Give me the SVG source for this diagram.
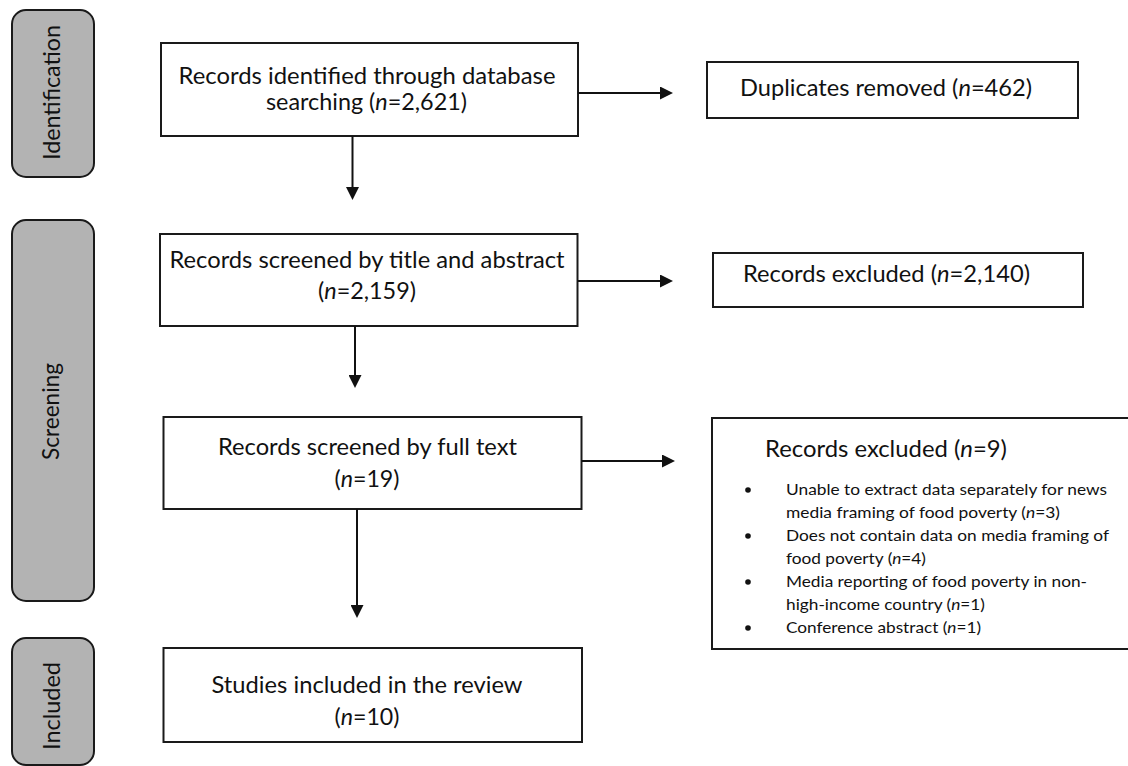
<svg xmlns="http://www.w3.org/2000/svg" width="1128" height="766" viewBox="0 0 1128 766">
<defs>
<style>
.box{fill:#fff;stroke:#1a1a1a;stroke-width:2}
.pill{fill:#b3b3b3;stroke:#1a1a1a;stroke-width:2}
.t{font-family:Lato,"Open Sans","Liberation Sans",sans-serif;font-size:23.5px;fill:#111}
.c{text-anchor:middle}
.s{font-size:16px}
.lb{font-size:24px}
.i{font-style:italic}
.conn line{stroke:#111;stroke-width:2}
</style>
<marker id="ah" viewBox="0 0 13 13" markerWidth="13" markerHeight="13" refX="1" refY="6.5" orient="auto" markerUnits="userSpaceOnUse">
<path d="M0,0 L13,6.5 L0,13 z" fill="#111"/>
</marker>
</defs>
<rect width="1128" height="766" fill="#fff"/>

<g id="stage-identification">
<rect class="pill" x="12" y="10" width="82" height="167" rx="14"/>
<text class="t c lb" transform="translate(60,92.5) rotate(-90)" textLength="135" lengthAdjust="spacingAndGlyphs">Identification</text>
</g>
<g id="stage-screening">
<rect class="pill" x="12" y="220" width="82" height="381" rx="14"/>
<text class="t c lb" transform="translate(59,411.5) rotate(-90)" textLength="97" lengthAdjust="spacingAndGlyphs">Screening</text>
</g>
<g id="stage-included">
<rect class="pill" x="12" y="638" width="82" height="127" rx="14"/>
<text class="t c lb" transform="translate(60,706) rotate(-90)" textLength="88" lengthAdjust="spacingAndGlyphs">Included</text>
</g>

<g id="box-identified">
<rect class="box" x="161" y="43" width="417" height="93"/>
<text class="t c" x="367" y="84" textLength="377" lengthAdjust="spacingAndGlyphs">Records identified through database</text>
<text class="t c" x="366.5" y="110" textLength="201" lengthAdjust="spacingAndGlyphs">searching (<tspan class="i">n</tspan>=2,621)</text>
</g>

<g id="box-duplicates">
<rect class="box" x="707" y="62" width="371" height="56"/>
<text class="t c" x="886" y="96" textLength="292" lengthAdjust="spacingAndGlyphs">Duplicates removed (<tspan class="i">n</tspan>=462)</text>
</g>

<g id="box-title-abstract">
<rect class="box" x="160" y="234" width="417.5" height="92"/>
<text class="t c" x="367" y="268" textLength="395" lengthAdjust="spacingAndGlyphs">Records screened by title and abstract</text>
<text class="t c" x="367" y="299" textLength="98" lengthAdjust="spacingAndGlyphs">(<tspan class="i">n</tspan>=2,159)</text>
</g>

<g id="box-excluded-1">
<rect class="box" x="713" y="253" width="370" height="54"/>
<text class="t c" x="886.5" y="282" textLength="287" lengthAdjust="spacingAndGlyphs">Records excluded (<tspan class="i">n</tspan>=2,140)</text>
</g>

<g id="box-full-text">
<rect class="box" x="163.5" y="417" width="418" height="92"/>
<text class="t c" x="367.5" y="455" textLength="299" lengthAdjust="spacingAndGlyphs">Records screened by full text</text>
<text class="t c" x="367" y="487" textLength="65" lengthAdjust="spacingAndGlyphs">(<tspan class="i">n</tspan>=19)</text>
</g>

<g id="box-excluded-2">
<rect class="box" x="712" y="418" width="430" height="231"/>
<text class="t" x="765" y="457" textLength="242" lengthAdjust="spacingAndGlyphs">Records excluded (<tspan class="i">n</tspan>=9)</text>
<g fill="#111">
<circle cx="748" cy="490" r="2.8"/>
<circle cx="748" cy="536" r="2.8"/>
<circle cx="748" cy="582" r="2.8"/>
<circle cx="748" cy="628" r="2.8"/>
</g>
<text class="t s" x="786" y="495" textLength="321" lengthAdjust="spacingAndGlyphs">Unable to extract data separately for news</text>
<text class="t s" x="786" y="518" textLength="274" lengthAdjust="spacingAndGlyphs">media framing of food poverty (<tspan class="i">n</tspan>=3)</text>
<text class="t s" x="786" y="541" textLength="323" lengthAdjust="spacingAndGlyphs">Does not contain data on media framing of</text>
<text class="t s" x="786" y="564" textLength="140" lengthAdjust="spacingAndGlyphs">food poverty (<tspan class="i">n</tspan>=4)</text>
<text class="t s" x="786" y="587" textLength="301" lengthAdjust="spacingAndGlyphs">Media reporting of food poverty in non-</text>
<text class="t s" x="786" y="610" textLength="199" lengthAdjust="spacingAndGlyphs">high-income country (<tspan class="i">n</tspan>=1)</text>
<text class="t s" x="786" y="633" textLength="195" lengthAdjust="spacingAndGlyphs">Conference abstract (<tspan class="i">n</tspan>=1)</text>
</g>

<g id="box-included">
<rect class="box" x="163.5" y="648" width="418.5" height="94"/>
<text class="t c" x="367" y="693" textLength="311" lengthAdjust="spacingAndGlyphs">Studies included in the review</text>
<text class="t c" x="367" y="725" textLength="65" lengthAdjust="spacingAndGlyphs">(<tspan class="i">n</tspan>=10)</text>
</g>

<g id="connectors" class="conn">
<line x1="578" y1="93" x2="661" y2="93" marker-end="url(#ah)"/>
<line x1="352.5" y1="136" x2="352.5" y2="188" marker-end="url(#ah)"/>
<line x1="577.5" y1="281" x2="661" y2="281" marker-end="url(#ah)"/>
<line x1="355" y1="326" x2="355" y2="376" marker-end="url(#ah)"/>
<line x1="581.5" y1="461" x2="663" y2="461" marker-end="url(#ah)"/>
<line x1="357" y1="509" x2="357" y2="606" marker-end="url(#ah)"/>
</g>
</svg>
